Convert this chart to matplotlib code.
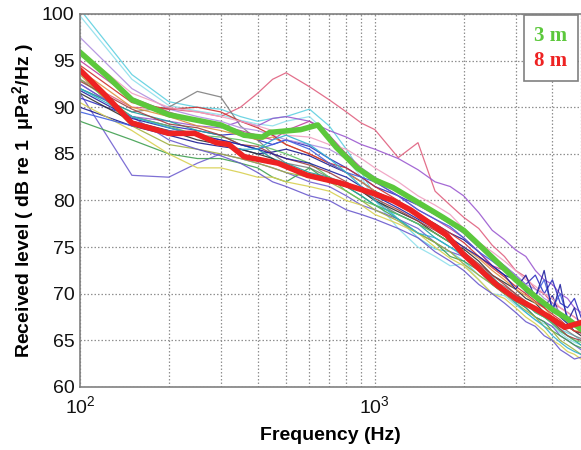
import numpy as np
import matplotlib
matplotlib.use("Agg")
import matplotlib.pyplot as plt
from matplotlib.lines import Line2D

plt.rcParams['font.family'] = ['Liberation Sans', 'DejaVu Sans']
plt.rcParams['mathtext.fontset'] = 'custom'
plt.rcParams['mathtext.rm'] = 'Liberation Sans'
plt.rcParams['mathtext.bf'] = 'Liberation Sans:bold'
plt.rcParams['mathtext.it'] = 'Liberation Sans:italic'

# ---------------- data ----------------
freq_thin = [100, 150, 200, 250, 300, 350, 400, 450, 500, 600, 700, 800, 900, 1000,
             1200, 1400, 1600, 1800, 2000, 2250, 2500, 2750, 3000, 3250, 3500, 3750,
             4000, 4250, 4500, 4750, 5000]

thin_colors = ['#5fd0e0', '#8fe0ec', '#e0607f', '#808080', '#7060d0', '#9b59d0',
               '#3030c0', '#1a1a90', '#40a050', '#d8d050', '#a0b040', '#20a0a0',
               '#303030', '#e09040', '#c040a0', '#b090e0', '#d03030', '#4060e0',
               '#6a5acd', '#60c060', '#a04040', '#f0a0c0', '#2020a0', '#30b0d0']

thin_levels = [
    [100.5, 93.5, 90.6, 90.0, 89.8, 89.0, 88.5, 88.8, 89.0, 89.8, 88.0, 85.5, 83.0, 80.5, 78.0, 76.0, 74.8, 74.5, 73.5, 72.0, 71.0, 70.5, 69.5, 68.8, 68.0, 67.5, 67.0, 66.2, 65.8, 65.5, 65.0],
    [99.8, 93.0, 90.2, 89.6, 89.2, 88.6, 88.2, 88.0, 88.5, 89.0, 87.0, 84.5, 82.5, 80.0, 77.0, 75.0, 74.0, 73.0, 73.2, 71.5, 70.0, 69.8, 68.8, 68.0, 67.2, 66.8, 66.5, 65.8, 65.2, 64.8, 64.5],
    [93.0, 90.0, 89.8, 89.5, 89.0, 90.0, 91.5, 93.0, 93.7, 92.2, 90.8, 89.5, 88.3, 87.6, 84.6, 86.2, 81.0, 79.5, 78.2, 77.0, 75.2, 74.0, 72.5, 71.8, 70.5, 70.0, 69.0, 68.5, 68.0, 67.5, 67.0],
    [92.0, 89.5, 90.0, 91.7, 91.1, 88.0, 86.5, 85.0, 84.0, 83.5, 82.5, 81.8, 81.0, 80.0, 78.5, 77.5, 76.5, 75.5, 74.5, 73.0, 71.5, 70.8, 70.0, 69.0, 68.2, 67.8, 67.0, 66.5, 66.0, 65.5, 65.2],
    [91.5, 82.7, 82.5, 84.0, 85.0, 84.5, 84.0, 83.5, 83.0, 82.0, 81.5, 80.5, 79.5, 79.0, 78.0, 77.0, 75.5, 74.5, 74.0, 72.5, 71.0, 70.0, 69.5, 68.5, 67.5, 67.0, 66.5, 65.5, 65.0, 64.5, 64.0],
    [92.5, 89.0, 88.5, 88.0, 87.8, 88.5, 88.0, 88.8, 89.0, 88.5, 87.5, 86.8, 86.0, 85.5, 84.5, 83.3, 82.0, 81.5, 80.5, 78.7, 76.8, 75.8, 74.7, 74.0, 72.5, 71.5, 71.0, 70.0, 69.5, 68.5, 68.0],
    [91.0, 89.0, 88.0, 87.5, 87.0, 87.2, 86.5, 86.0, 86.5, 85.8, 84.5, 83.5, 82.5, 81.5, 80.5, 79.5, 78.5, 77.5, 76.5, 75.0, 74.0, 73.0, 72.0, 71.0, 72.0, 70.0, 71.5, 69.0, 68.5, 69.5, 67.5],
    [90.0, 88.0, 87.0, 86.2, 85.8, 85.5, 85.0, 85.2, 85.5, 84.8, 83.8, 83.0, 82.0, 81.0, 79.8, 78.5, 77.5, 76.5, 75.8, 74.5, 73.0, 72.0, 71.5, 70.2, 69.5, 68.5, 69.8, 67.5, 66.8, 66.0, 65.8],
    [88.5, 86.5, 85.0, 84.5, 84.5, 84.0, 83.5, 82.5, 82.0, 83.5, 82.0, 81.5, 80.5, 79.5, 78.0, 76.5, 75.5, 74.0, 73.5, 72.5, 71.0, 70.0, 69.2, 68.5, 67.5, 67.0, 66.0, 65.5, 65.0, 64.5, 64.2],
    [90.5, 87.5, 85.0, 83.5, 83.5, 83.0, 82.5, 82.5, 82.0, 81.5, 81.0, 80.0, 79.5, 78.5, 77.5, 76.5, 75.0, 73.8, 73.0, 71.5, 70.0, 69.5, 68.5, 67.5, 66.8, 66.0, 65.0, 64.5, 63.8, 63.5, 63.0],
    [93.5, 88.0, 86.0, 85.5, 85.0, 84.5, 84.0, 83.5, 83.0, 82.5, 82.0, 81.0, 80.0, 79.0, 77.8, 76.5, 75.5, 74.5, 73.2, 72.0, 71.0, 70.0, 69.0, 68.2, 67.5, 66.5, 66.0, 65.0, 64.5, 64.0, 63.5],
    [92.0, 89.5, 88.5, 87.5, 87.0, 86.0, 85.5, 84.5, 84.0, 83.0, 82.5, 81.5, 80.5, 79.5, 78.5, 77.5, 76.0, 75.0, 74.2, 73.0, 71.8, 70.5, 69.8, 69.0, 68.0, 67.5, 66.8, 66.0, 65.5, 65.0, 64.5],
    [91.5, 88.5, 87.5, 86.5, 86.0, 85.5, 85.0, 84.5, 83.5, 82.5, 82.0, 81.5, 81.0, 80.0, 78.8, 77.8, 76.5, 75.5, 74.8, 73.5, 72.0, 71.2, 70.5, 69.5, 69.0, 68.0, 67.5, 67.0, 66.5, 66.0, 65.5],
    [94.0, 90.0, 89.0, 88.0, 87.5, 87.0, 86.5, 86.8, 86.0, 85.0, 84.0, 83.0, 82.0, 81.0, 79.5, 78.2, 77.0, 76.0, 75.0, 73.8, 72.5, 71.5, 70.5, 69.8, 69.0, 68.5, 67.5, 67.0, 66.5, 66.0, 66.0],
    [95.0, 91.0, 89.5, 88.5, 88.0, 87.5, 87.0, 86.5, 87.5, 88.5, 87.0, 85.0, 83.5, 82.0, 80.5, 79.0, 78.0, 77.0, 76.0, 74.5, 73.0, 72.5, 71.5, 70.5, 70.0, 69.0, 68.5, 68.0, 67.0, 66.5, 66.5],
    [97.5, 92.0, 89.8, 89.0, 88.5, 87.8, 87.5, 87.0, 86.5, 86.0, 85.5, 84.5, 83.5, 82.5, 81.0, 79.5, 78.5, 77.5, 76.5, 75.0, 74.0, 73.0, 72.0, 71.0, 70.5, 69.5, 69.0, 68.0, 67.5, 67.0, 66.5],
    [94.5, 90.5, 89.8, 90.0, 89.5, 88.5, 87.8, 87.0, 86.0, 85.0, 84.0, 83.5, 82.5, 81.5, 80.0, 78.5, 77.5, 76.5, 75.5, 74.0, 72.8, 71.8, 70.8, 70.0, 69.2, 68.5, 67.8, 67.2, 66.5, 66.0, 65.8],
    [89.5, 88.0, 87.5, 87.0, 86.5, 86.0, 85.5, 86.0, 86.5, 85.5, 84.0, 83.0, 82.5, 82.0, 80.5, 79.0, 78.0, 77.2, 76.0, 74.5, 73.5, 72.5, 71.5, 70.5, 69.8, 71.5, 68.5, 70.0, 67.5, 66.5, 66.0],
    [92.5, 89.0, 86.5, 85.5, 84.8, 84.0, 83.0, 82.0, 81.5, 80.5, 80.0, 79.0, 78.5, 78.0, 77.0, 76.0, 74.5, 73.5, 72.5, 71.0, 70.0, 69.0, 68.0, 67.0, 66.5, 65.5, 65.0, 64.0, 63.5, 63.0, 63.2],
    [93.0, 89.0, 88.0, 87.0, 86.8, 86.5, 86.0, 85.5, 85.0, 84.0, 82.5, 81.0, 80.0, 79.5, 78.5, 77.5, 76.5, 75.5, 74.0, 72.8, 71.5, 70.5, 69.5, 69.0, 68.0, 67.5, 66.8, 66.0, 65.5, 65.0, 64.8],
    [92.8, 89.8, 88.2, 87.8, 87.0, 86.0, 85.8, 85.0, 84.5, 83.8, 83.0, 82.0, 81.0, 80.2, 79.0, 77.8, 76.8, 75.8, 74.5, 73.2, 72.0, 71.0, 70.0, 69.2, 68.5, 67.8, 67.0, 66.2, 65.5, 65.2, 65.0],
    [96.0, 91.5, 90.0, 89.5, 89.0, 88.5, 88.0, 87.5, 87.0, 86.8, 86.0, 85.5, 84.5, 83.5, 82.0, 80.5, 79.5, 78.5, 77.0, 75.5, 74.5, 73.5, 72.5, 71.5, 70.8, 70.0, 69.5, 68.5, 68.0, 67.5, 67.0],
    [91.8, 88.8, 87.8, 87.0, 86.5, 86.0, 85.5, 85.0, 84.5, 84.0, 83.2, 82.5, 81.5, 80.5, 79.2, 78.0, 77.0, 76.0, 75.0, 74.0, 73.0, 72.0, 70.5, 72.0, 69.5, 72.5, 68.0, 71.0, 67.0, 68.5, 66.0],
    [92.0, 89.0, 87.8, 87.0, 86.0, 85.5, 85.5, 86.5, 87.0, 86.0, 84.5, 83.0, 81.5, 80.0, 78.0, 76.5, 76.0, 75.0, 74.0, 72.8, 71.5, 70.2, 69.0, 68.0, 67.2, 66.5, 65.5, 64.8, 64.2, 63.8, 63.5],
]

freq_3m = [100, 125, 150, 200, 250, 300, 360, 415, 440, 560, 640, 740, 870, 1000,
           1150, 1400, 1700, 2000, 2300, 2700, 3000, 3500, 4000, 4500, 5000]
level_3m = [95.9, 93.2, 90.8, 89.2, 88.6, 88.1, 87.0, 86.8, 87.3, 87.6, 88.1, 85.7,
            83.5, 82.2, 81.4, 79.8, 78.2, 76.8, 75.0, 72.9, 71.5, 69.7, 68.3, 67.3, 66.2]

freq_8m = [100, 120, 150, 200, 245, 290, 320, 360, 470, 590, 760, 980, 1150, 1320,
           1500, 1750, 2000, 2200, 2600, 3000, 3500, 4000, 4400, 5000]
level_8m = [94.0, 91.5, 88.3, 87.2, 87.2, 86.2, 86.0, 84.7, 84.0, 82.7, 81.9, 80.8,
            80.0, 79.0, 77.8, 76.3, 74.2, 73.0, 70.9, 69.5, 68.4, 67.3, 66.4, 66.9]

legend_labels = ['3 m', '8 m']
color_3m = '#5cc83c'
color_8m = '#ee2222'

# ---------------- figure ----------------
fig = plt.figure(figsize=(5.81, 4.5), dpi=100)
ax = fig.add_axes([80/581, 1-387/450, 1-80/581, (387-14)/450])

for lv, c in zip(thin_levels, thin_colors):
    ax.plot(freq_thin, lv, color=c, lw=0.9, alpha=0.9)

ax.plot(freq_3m, level_3m, color=color_3m, lw=4.0, solid_joinstyle='round')
ax.plot(freq_8m, level_8m, color=color_8m, lw=4.0, solid_joinstyle='round')

ax.set_xscale('log')
ax.set_xlim(100, 5000)
ax.set_ylim(60, 100)
ax.set_yticks(np.arange(60, 101, 5))
ax.set_xticks([100, 1000])

ax.grid(True, which='major', linestyle=(0, (1.2, 1.6)), color='#909090', lw=0.9)
ax.grid(True, which='minor', axis='x', linestyle=(0, (1.2, 1.6)), color='#909090', lw=0.9)
ax.tick_params(which='both', direction='in', length=0, labelsize=14, colors='#111111', pad=4)
ax.tick_params(axis='x', pad=6)
ax.xaxis.set_minor_formatter(matplotlib.ticker.NullFormatter())

for s in ['left', 'bottom', 'top']:
    ax.spines[s].set_color('#808080')
    ax.spines[s].set_linewidth(1.2)
ax.spines['right'].set_visible(False)

ax.set_xlabel('Frequency (Hz)', fontsize=14, fontweight='bold', labelpad=7)
ax.set_ylabel('Received level ( dB re 1  μPa$^\\mathbf{2}$/Hz )', fontsize=14,
              fontweight='bold', labelpad=4)

handles = [Line2D([], [], color='none'), Line2D([], [], color='none')]
leg = ax.legend(handles, legend_labels, loc='upper right',
                bbox_to_anchor=(0.994, 0.997), borderaxespad=0,
                handlelength=0, handletextpad=0, labelcolor=[color_3m, color_8m],
                prop={'family': 'Liberation Serif', 'weight': 'bold', 'size': 15},
                fancybox=False, framealpha=1, edgecolor='#808080',
                borderpad=0.5, labelspacing=0.25)
leg.get_frame().set_linewidth(1.2)

fig.savefig('out.png', dpi=100)
